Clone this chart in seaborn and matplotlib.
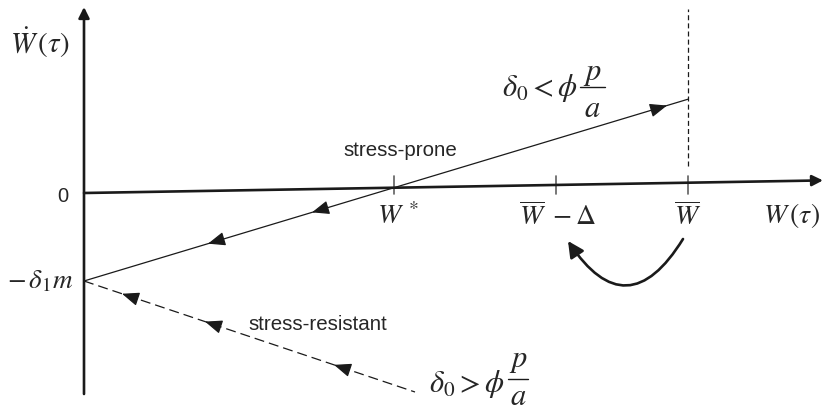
import numpy as np
import matplotlib
matplotlib.use("Agg")
import matplotlib.pyplot as plt
import seaborn as sns

sns.set_theme(style="white")
plt.rcParams["font.family"] = ["Liberation Sans", "DejaVu Sans"]
plt.rcParams["mathtext.fontset"] = "stix"

# W axis (slightly rising) and the vertical W-dot axis
axis_x = [0, 739]
axis_y = [0, 12.6]
vaxis_y = [-201, 186]

# positions marked on the W axis
w_ticks = [310, 472, 604]
w_labels = [r"$W^{\,*}$", r"$\overline{W}\ -\Delta$", r"$\overline{W}$"]
w_label_x = [314, 474, 604]

# intercept -delta_1 m and the two growth lines
intercept = -88
prone_x = [0, 604]
prone_y = [intercept, 93.8]
resist_x = [0, 331]
resist_y = [intercept, -199]

# arrowheads drawn along the trajectories (x of the tip)
prone_left_arrows = [228, 124]
prone_right_arrows = [583]
resist_arrows = [38, 121, 250]

# dashed guide at W-bar
guide_y = [27, 184]

fig = plt.figure(figsize=(8.26, 4.08), dpi=100)
ax = fig.add_axes([0, 0, 1, 1])
ax.set_xlim(-84, 742)
ax.set_ylim(-215, 193)
ax.axis("off")


def line_y(xs, ys, x):
    return np.interp(x, xs, ys)


# axes with arrow tips
ax.annotate("", xy=(axis_x[1], axis_y[1]), xytext=(axis_x[0], axis_y[0]),
            arrowprops=dict(arrowstyle="-|>", lw=1.9, color="k",
                            mutation_scale=16, shrinkA=0, shrinkB=0))
ax.annotate("", xy=(0, vaxis_y[1]), xytext=(0, vaxis_y[0]),
            arrowprops=dict(arrowstyle="-|>", lw=1.9, color="k",
                            mutation_scale=16, shrinkA=0, shrinkB=0))

# tick marks
for t in w_ticks:
    ax.plot([t, t], [-1, 17], color="#606060", lw=1.2)

# trajectories
sns.lineplot(x=prone_x, y=prone_y, ax=ax, color="k", lw=0.9,
             estimator=None, sort=False)
sns.lineplot(x=resist_x, y=resist_y, ax=ax, color="k", lw=0.9,
             linestyle=(0, (8, 4)), estimator=None, sort=False)
ax.plot([w_ticks[2], w_ticks[2]], guide_y, color="k", lw=0.9,
        linestyle=(0, (4, 2.5)))


def head(xs, ys, x_tip, direction):
    y_tip = line_y(xs, ys, x_tip)
    dx = xs[1] - xs[0]
    dy = ys[1] - ys[0]
    n = np.hypot(dx, dy)
    ux, uy = dx / n * direction, dy / n * direction
    ax.annotate("", xy=(x_tip, y_tip), xytext=(x_tip - ux * 12, y_tip - uy * 12),
                arrowprops=dict(arrowstyle="-|>,head_length=0.75,head_width=0.3",
                                lw=0.9, color="k", mutation_scale=14,
                                shrinkA=0, shrinkB=0))


for x in prone_left_arrows:
    head(prone_x, prone_y, x, -1)
for x in prone_right_arrows:
    head(prone_x, prone_y, x, 1)
for x in resist_arrows:
    head(resist_x, resist_y, x, -1)

# curved arrow from W-bar back to W-bar minus Delta
ax.annotate("", xy=(484, -48), xytext=(599, -46),
            arrowprops=dict(arrowstyle="-|>,head_length=0.6,head_width=0.3",
                            lw=1.9, color="k", mutation_scale=16,
                            shrinkA=0, shrinkB=0,
                            connectionstyle="arc3,rad=-0.78"))


def condition(x_right, y_base, sign, bar_x0, bar_x1, bar_y, p_base, a_base):
    """delta_0 <sign> phi p/a written with a full-size stacked fraction."""
    ax.text(x_right, y_base, r"$\delta_0%s\phi$" % sign, fontsize=22,
            ha="right", va="baseline")
    xc = (bar_x0 + bar_x1) / 2
    ax.plot([bar_x0, bar_x1], [bar_y, bar_y], color="k", lw=1.0)
    ax.text(xc, p_base, r"$p$", fontsize=22, ha="center", va="baseline")
    ax.text(xc, a_base, r"$a$", fontsize=22, ha="center", va="baseline")


# labels
ax.text(-44, 150, r"$\dot{W}\,(\tau)$", fontsize=21,
        ha="center", va="center")
ax.text(-21.5, -3.5, "0", fontsize=14.5, ha="center", va="center")
ax.text(-11, intercept, r"$-\,\delta_1 m$", fontsize=19.5, ha="right",
        va="center")
for lx, lab in zip(w_label_x, w_labels):
    ax.text(lx, -24, lab, fontsize=20, ha="center", va="center")
ax.text(707, -22, r"$W\,(\tau)$", fontsize=20, ha="center", va="center")
ax.text(316, 42, "stress-prone", fontsize=14.8, ha="center", va="center")
ax.text(234, -132, "stress-resistant", fontsize=14.8, ha="center", va="center")
condition(494, 97, "<", 496, 521, 106, 113, 76)
condition(421, -199, ">", 424, 444, -186, -174, -212)

fig.savefig("out.png", dpi=100, facecolor="white")
